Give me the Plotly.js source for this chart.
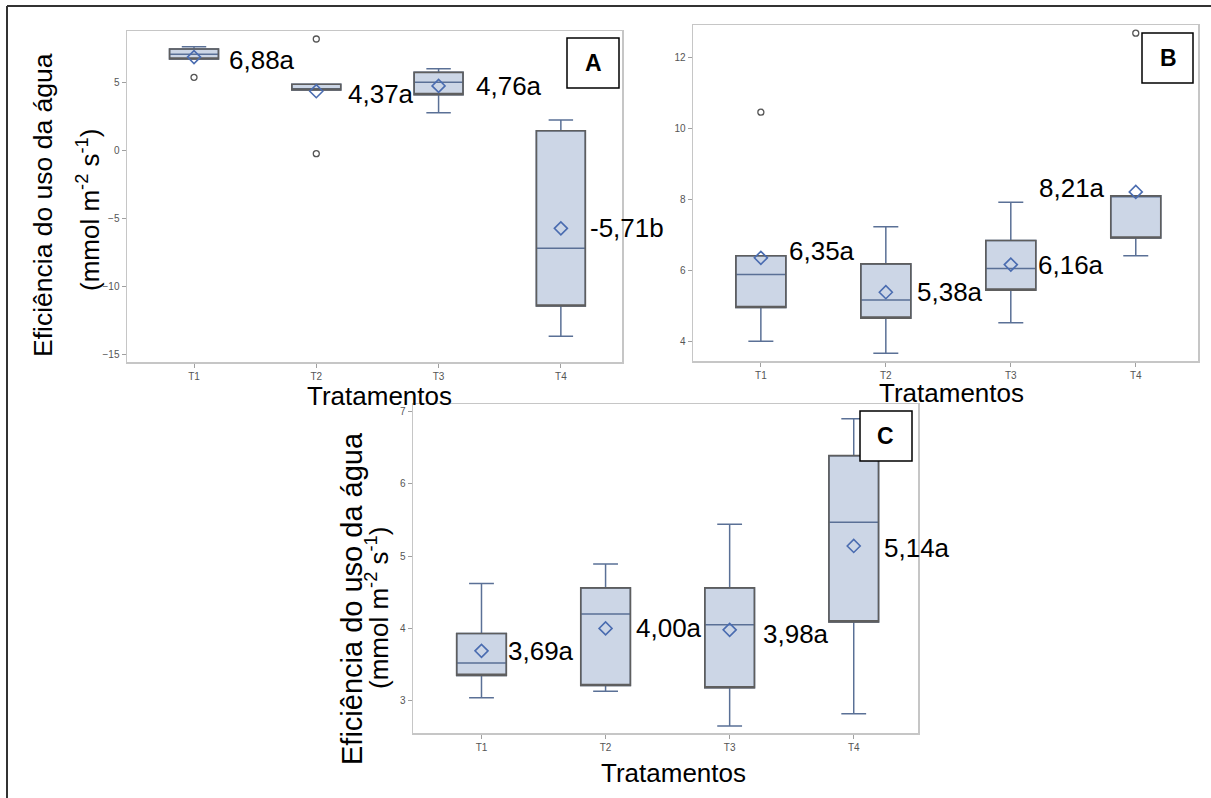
<!DOCTYPE html>
<html><head><meta charset="utf-8">
<script src="https://cdn.plot.ly/plotly-3.0.1.min.js"></script>
<style>html,body{margin:0;padding:0;background:#fff}#chart{width:1211px;height:798px}</style>
</head><body><div id="chart"></div>
<script>
// ---------------- data ----------------
const categories = ['T1', 'T2', 'T3', 'T4'];

// Panel A
const aQ1     = [6.74, 4.46, 4.12, -11.42];
const aMedian = [7.09, 4.55, 5.03, -7.18];
const aQ3     = [7.48, 4.88, 5.76, 1.47];
const aLower  = [6.74, 4.46, 2.79, -13.65];
const aUpper  = [7.65, 4.88, 6.03, 2.26];
const aMean   = [6.88, 4.37, 4.76, -5.71];
const aOutX   = ['T1', 'T2', 'T2'];
const aOutY   = [5.39, 8.21, -0.22];
const aLabels = ['6,88a', '4,37a', '4,76a', '-5,71b'];

// Panel B
const bQ1     = [4.95, 4.65, 5.44, 6.91];
const bMedian = [5.88, 5.16, 6.05, 8.10];
const bQ3     = [6.41, 6.18, 6.84, 8.10];
const bLower  = [4.00, 3.66, 4.52, 6.41];
const bUpper  = [6.41, 7.23, 7.92, 8.10];
const bMean   = [6.35, 5.38, 6.16, 8.21];
const bOutX   = ['T1', 'T4'];
const bOutY   = [10.46, 12.69];
const bLabels = ['6,35a', '5,38a', '6,16a', '8,21a'];

// Panel C
const cQ1     = [3.35, 3.21, 3.18, 4.09];
const cMedian = [3.52, 4.20, 4.05, 5.47];
const cQ3     = [3.93, 4.56, 4.56, 6.39];
const cLower  = [3.04, 3.13, 2.65, 2.82];
const cUpper  = [4.62, 4.89, 5.44, 6.90];
const cMean   = [3.69, 4.00, 3.98, 5.14];
const cLabels = ['3,69a', '4,00a', '3,98a', '5,14a'];

const yTitle1 = 'Eficiência do uso da água';
const yTitle2 = '(mmol m<sup>-2</sup> s<sup>-1</sup>)';
const xTitle = 'Tratamentos';

// ---------------- layout helpers ----------------
const W = 1211, H = 798;
const px = v => v / W;
const py = v => 1 - v / H;
const FONT = 'Liberation Sans, Arial, sans-serif';

const FILL = '#ccd6e6';
const WHISK = '#5a7096';
const OUTLINE = '#5e5e5e';
const MEANC = '#4a6cb0';

function panelTraces(xa, ya, q1, med, q3, lo, up, mean, outX, outY) {
  const t = [];
  t.push({type: 'box', x: categories, q1: q1, median: med, q3: q3,
    lowerfence: lo, upperfence: up, xaxis: xa, yaxis: ya,
    width: 0.4, whiskerwidth: 0.5, fillcolor: FILL,
    line: {color: WHISK, width: 1.5}, hoverinfo: 'skip'});
  // darker box outline overlay
  t.push({type: 'box', x: categories, q1: q1, median: q1, q3: q3,
    lowerfence: q1, upperfence: q3, xaxis: xa, yaxis: ya,
    width: 0.4, whiskerwidth: 0, fillcolor: 'rgba(0,0,0,0)',
    line: {color: OUTLINE, width: 1.6}, hoverinfo: 'skip'});
  t.push({type: 'scatter', mode: 'markers', x: categories, y: mean,
    xaxis: xa, yaxis: ya, hoverinfo: 'skip',
    marker: {symbol: 'diamond-open', size: 10, color: MEANC, line: {width: 1.6, color: MEANC}}});
  if (outX) {
    t.push({type: 'scatter', mode: 'markers', x: outX, y: outY,
      xaxis: xa, yaxis: ya, hoverinfo: 'skip',
      marker: {symbol: 'circle-open', size: 6, color: '#555', line: {width: 1.3, color: '#555'}}});
  }
  return t;
}

const data = [].concat(
  panelTraces('x', 'y', aQ1, aMedian, aQ3, aLower, aUpper, aMean, aOutX, aOutY),
  panelTraces('x2', 'y2', bQ1, bMedian, bQ3, bLower, bUpper, bMean, bOutX, bOutY),
  panelTraces('x3', 'y3', cQ1, cMedian, cQ3, cLower, cUpper, cMean, null, null)
);

const axBase = {
  showline: true, mirror: true, linecolor: '#c6c6c6', linewidth: 1.5,
  ticks: 'outside', ticklen: 4, tickwidth: 1, tickcolor: '#a0a0a0',
  tickfont: {family: FONT, size: 10, color: '#555'},
  showgrid: false, zeroline: false, fixedrange: true
};

function xAxis(domain, range, anchor) {
  return Object.assign({}, axBase, {domain: domain, range: range, anchor: anchor,
    type: 'category', categoryorder: 'array', categoryarray: categories});
}
function yAxis(domain, range, dtick, anchor) {
  return Object.assign({}, axBase, {domain: domain, range: range, anchor: anchor,
    tickmode: 'linear', dtick: dtick});
}

const annotations = [];
function addLabels(xr, yr, labels, means, offsets) {
  labels.forEach((txt, i) => {
    const o = offsets[i];
    annotations.push({xref: xr, yref: yr, x: categories[i], y: means[i],
      text: txt, showarrow: false, xanchor: o[2] || 'left', yanchor: 'middle',
      xshift: o[0], yshift: o[1], font: {family: FONT, size: 26, color: '#000'}});
  });
}
addLabels('x', 'y', aLabels, aMean, [[33, -3], [30, -3], [35, 0], [27, 0]]);
addLabels('x2', 'y2', bLabels, bMean, [[26, 7], [29, 0], [25, 0], [-29, 4, 'right']]);
addLabels('x3', 'y3', cLabels, cMean, [[25, 0], [28, 0], [31, -4], [28, -2]]);

function paperText(x, y, text, size, angle, extra) {
  annotations.push(Object.assign({xref: 'paper', yref: 'paper', x: px(x), y: py(y),
    text: text, showarrow: false, xanchor: 'center', yanchor: 'middle',
    textangle: angle || 0, font: {family: FONT, size: size, color: '#000'}}, extra || {}));
}
// x titles
paperText(379, 396, xTitle, 26);
paperText(951, 393, xTitle, 26);
paperText(673, 773, xTitle, 26);
// y titles
paperText(43, 205, yTitle1, 26.5, -90);
paperText(89, 210, yTitle2, 26, -90);
paperText(352, 599, yTitle1, 29, -90);
paperText(377, 608, yTitle2, 26, -90);
// panel letters
paperText(593, 63, '<b>A</b>', 23);
paperText(1168, 58, '<b>B</b>', 23);
paperText(886, 436, '<b>C</b>', 23);

const shapes = [
  {type: 'line', xref: 'paper', yref: 'paper', x0: px(7), y0: py(6), x1: px(1211), y1: py(6), line: {color: '#333', width: 2}},
  {type: 'line', xref: 'paper', yref: 'paper', x0: px(7), y0: py(6), x1: px(7), y1: py(798), line: {color: '#333', width: 2}},
  {type: 'rect', xref: 'paper', yref: 'paper', x0: px(567), y0: py(38), x1: px(619), y1: py(88), line: {color: '#000', width: 1.5}, fillcolor: '#fff'},
  {type: 'rect', xref: 'paper', yref: 'paper', x0: px(1142), y0: py(33), x1: px(1193), y1: py(83), line: {color: '#000', width: 1.5}, fillcolor: '#fff'},
  {type: 'rect', xref: 'paper', yref: 'paper', x0: px(860), y0: py(411), x1: px(912), y1: py(461), line: {color: '#000', width: 1.5}, fillcolor: '#fff'}
];

const layout = {
  width: W, height: H, margin: {l: 0, r: 0, t: 0, b: 0},
  paper_bgcolor: '#fff', plot_bgcolor: '#fff', showlegend: false,
  boxmode: 'overlay',
  xaxis:  xAxis([px(127), px(622)], [-0.548, 3.5], 'y'),
  yaxis:  yAxis([py(362), py(31)], [-15.54, 8.8], 5, 'x'),
  xaxis2: xAxis([px(693), px(1198)], [-0.543, 3.498], 'y2'),
  yaxis2: yAxis([py(361), py(25)], [3.44, 12.92], 2, 'x2'),
  xaxis3: xAxis([px(413), px(918)], [-0.552, 3.518], 'y3'),
  yaxis3: yAxis([py(733.3), py(404.3)], [2.549, 7.10], 1, 'x3'),
  annotations: annotations,
  shapes: shapes
};

Plotly.newPlot('chart', data, layout, {staticPlot: true, displayModeBar: false});
</script>
</body></html>
